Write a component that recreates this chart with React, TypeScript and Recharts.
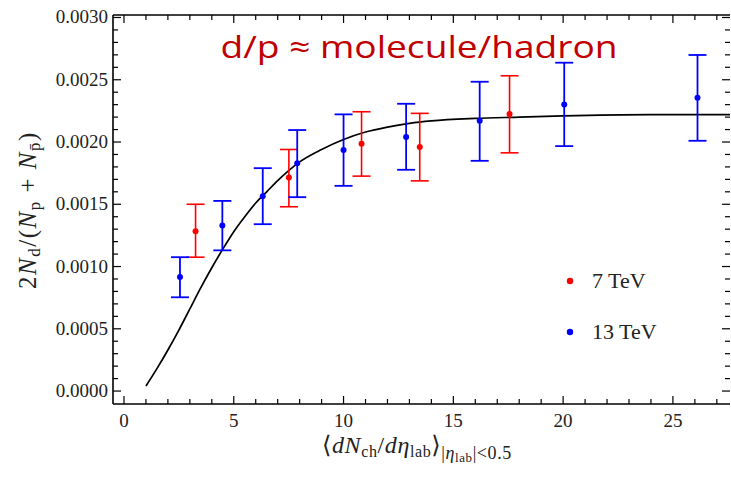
import React from 'react'
import {
  ComposedChart,
  Line,
  Scatter,
  ErrorBar,
  XAxis,
  YAxis
} from 'recharts'

// fitted curve
const curveX = [1, 1.5, 2, 2.5, 3, 3.5, 4, 4.5, 5, 5.5, 6, 6.5, 7, 7.5, 8, 9, 10, 11, 12, 13, 14, 16, 18, 20, 24, 27.7]
const curveY = [
  0.00004, 0.00018, 0.00033, 0.00049, 0.00066, 0.00083, 0.00099, 0.00114, 0.00128, 0.0014, 0.00151,
  0.0016, 0.00169, 0.00177, 0.00184, 0.00194, 0.00202, 0.00208, 0.00212, 0.00215, 0.00217, 0.00219,
  0.0022, 0.00221, 0.00222, 0.00222
]

// 7 TeV
const redX = [3.26, 7.51, 10.82, 13.47, 17.56]
const redY = [0.001284, 0.001715, 0.001986, 0.001959, 0.002224]
const redLow = [0.001075, 0.00148, 0.001726, 0.001688, 0.001913]
const redHigh = [0.0015, 0.00194, 0.002243, 0.00223, 0.002532]

// 13 TeV
const blueX = [2.55, 4.48, 6.32, 7.89, 10.0, 12.85, 16.2, 20.05, 26.12]
const blueY = [0.000916, 0.00133, 0.001565, 0.00183, 0.001935, 0.00204, 0.00217, 0.002302, 0.002355]
const blueLow = [0.000753, 0.00113, 0.00134, 0.001557, 0.001648, 0.001777, 0.001849, 0.001967, 0.00201]
const blueHigh = [0.001075, 0.001527, 0.00179, 0.002096, 0.002222, 0.002307, 0.002484, 0.002637, 0.002699]

// axis ticks
const xTicks = Array.from({ length: 28 }, (_, i) => i)
const xMajor = [0, 5, 10, 15, 20, 25]
const yTicks = Array.from({ length: 31 }, (_, i) => Number((i * 0.0001).toFixed(4)))
const yMajor = [0, 0.0005, 0.001, 0.0015, 0.002, 0.0025, 0.003]

const X_DOMAIN: [number, number] = [-0.5, 27.6]
const Y_DOMAIN: [number, number] = [-0.000104, 0.00302]

const curveData = curveX.map((x, i) => ({ x, y: curveY[i] }))
const toPoints = (xs: number[], ys: number[], lo: number[], hi: number[]) =>
  xs.map((x, i) => ({ x, y: ys[i], err: [ys[i] - lo[i], hi[i] - ys[i]] }))
const redData = toPoints(redX, redY, redLow, redHigh)
const blueData = toPoints(blueX, blueY, blueLow, blueHigh)

const FONT = '"Liberation Serif", "DejaVu Serif", serif'
const isMajorX = (v: number) => xMajor.includes(v)
const isMajorY = (v: number) => yMajor.some((m) => Math.abs(m - v) < 1e-9)

const BottomTick = ({ x, y, payload }: any) => {
  const major = isMajorX(payload.value)
  return (
    <g>
      <line x1={x} x2={x} y1={y} y2={y - (major ? 8 : 5)} stroke="#000" strokeWidth={1.2} />
      {major && (
        <text x={x} y={y + 23} textAnchor="middle" fontFamily={FONT} fontSize={19} fill="#222">
          {payload.value}
        </text>
      )}
    </g>
  )
}

const TopTick = ({ x, y, payload }: any) => {
  const major = isMajorX(payload.value)
  return <line x1={x} x2={x} y1={y} y2={y + (major ? 8 : 5)} stroke="#000" strokeWidth={1.2} />
}

const LeftTick = ({ x, y, payload }: any) => {
  const major = isMajorY(payload.value)
  return (
    <g>
      <line x1={x} x2={x + (major ? 8 : 5)} y1={y} y2={y} stroke="#000" strokeWidth={1.2} />
      {major && (
        <text x={x - 5} y={y + 6} textAnchor="end" fontFamily={FONT} fontSize={19} fill="#222">
          {payload.value.toFixed(4)}
        </text>
      )}
    </g>
  )
}

const RightTick = ({ x, y, payload }: any) => {
  const major = isMajorY(payload.value)
  return <line x1={x} x2={x - (major ? 8 : 5)} y1={y} y2={y} stroke="#000" strokeWidth={1.2} />
}

const dot = (color: string) => (props: any) =>
  <circle cx={props.cx} cy={props.cy} r={3} fill={color} />

export default function App() {
  return (
    <div style={{ position: 'fixed', left: 0, top: 0, width: 731, height: 477, background: '#fff', overflow: 'hidden' }}>
      <ComposedChart width={731} height={477} margin={{ top: 14, right: 0, bottom: 0, left: 0 }}>
        <XAxis
          xAxisId={0}
          type="number"
          dataKey="x"
          domain={X_DOMAIN}
          allowDataOverflow
          ticks={xTicks}
          interval={0}
          tickSize={0}
          tickMargin={0}
          tickLine={false}
          height={73}
          tick={<BottomTick />}
          axisLine={{ stroke: '#000', strokeWidth: 1.6 }}
        />
        <XAxis
          xAxisId="top"
          orientation="top"
          type="number"
          dataKey="x"
          domain={X_DOMAIN}
          allowDataOverflow
          ticks={xTicks}
          interval={0}
          tickSize={0}
          tickMargin={0}
          tickLine={false}
          height={1}
          tick={<TopTick />}
          axisLine={{ stroke: '#000', strokeWidth: 1.6 }}
        />
        <YAxis
          yAxisId={0}
          type="number"
          domain={Y_DOMAIN}
          allowDataOverflow
          ticks={yTicks}
          interval={0}
          tickSize={0}
          tickMargin={0}
          tickLine={false}
          width={113}
          tick={<LeftTick />}
          axisLine={{ stroke: '#000', strokeWidth: 1.6 }}
        />
        <YAxis
          yAxisId="right"
          orientation="right"
          type="number"
          domain={Y_DOMAIN}
          allowDataOverflow
          ticks={yTicks}
          interval={0}
          tickSize={0}
          tickMargin={0}
          tickLine={false}
          width={1}
          tick={<RightTick />}
          axisLine={false}
        />
        {/* invisible copy so the frame axes are registered */}
        <Line
          xAxisId="top"
          yAxisId="right"
          data={curveData}
          dataKey="y"
          stroke="none"
          dot={false}
          activeDot={false}
          isAnimationActive={false}
        />
        <Line
          data={curveData}
          dataKey="y"
          type="monotone"
          stroke="#000"
          strokeWidth={1.7}
          dot={false}
          isAnimationActive={false}
        />
        <Scatter data={redData} dataKey="y" shape={dot('#ff0000')} isAnimationActive={false}>
          <ErrorBar dataKey="err" direction="y" width={9} stroke="#ff0000" strokeWidth={1.6} />
        </Scatter>
        <Scatter data={blueData} dataKey="y" shape={dot('#0000ff')} isAnimationActive={false}>
          <ErrorBar dataKey="err" direction="y" width={9} stroke="#0000ff" strokeWidth={1.8} />
        </Scatter>
      </ComposedChart>

      <svg width={731} height={477} style={{ position: 'absolute', left: 0, top: 0, pointerEvents: 'none' }}>
        <text
          x={419}
          y={58}
          textAnchor="middle"
          fontFamily='"Open Sans", "Noto Sans", sans-serif'
          fontSize={31}
          fill="#c00000"
          textLength={397}
          lengthAdjust="spacingAndGlyphs"
        >
          d/p ≈ molecule/hadron
        </text>

        <circle cx={570} cy={281} r={3.2} fill="#ff0000" />
        <text x={592} y={288} fontFamily={FONT} fontSize={22} fill="#222">7 TeV</text>
        <circle cx={570} cy={332} r={3.2} fill="#0000ff" />
        <text x={592} y={339} fontFamily={FONT} fontSize={22} fill="#222">13 TeV</text>

        <text x={322} y={453} fontFamily={FONT} fontSize={24} fill="#222" letterSpacing={0.6}>
          <tspan>⟨</tspan>
          <tspan fontStyle="italic">dN</tspan>
          <tspan fontSize={16} dy={4}>ch</tspan>
          <tspan dy={-4}>/</tspan>
          <tspan fontStyle="italic">dη</tspan>
          <tspan fontSize={16} dy={4}>lab</tspan>
          <tspan dy={-4}>⟩</tspan>
          <tspan fontSize={18} dy={6}>|</tspan>
          <tspan fontSize={18} fontStyle="italic">η</tspan>
          <tspan fontSize={13} dy={3}>lab</tspan>
          <tspan fontSize={18} dy={-3}>|&lt;0.5</tspan>
        </text>

        <text
          transform="translate(36, 210) rotate(-90)"
          textAnchor="middle"
          fontFamily={FONT}
          fontSize={25}
          fill="#222"
          letterSpacing={1.5}
        >
          <tspan>2</tspan>
          <tspan fontStyle="italic">N</tspan>
          <tspan fontSize={17} dy={4}>d</tspan>
          <tspan dy={-4}>/(</tspan>
          <tspan fontStyle="italic">N</tspan>
          <tspan fontSize={17} dy={4}>p</tspan>
          <tspan dy={-4}> + </tspan>
          <tspan fontStyle="italic">N</tspan>
          <tspan fontSize={17} dy={4}>p̄</tspan>
          <tspan dy={-4}>)</tspan>
        </text>
      </svg>
    </div>
  )
}
